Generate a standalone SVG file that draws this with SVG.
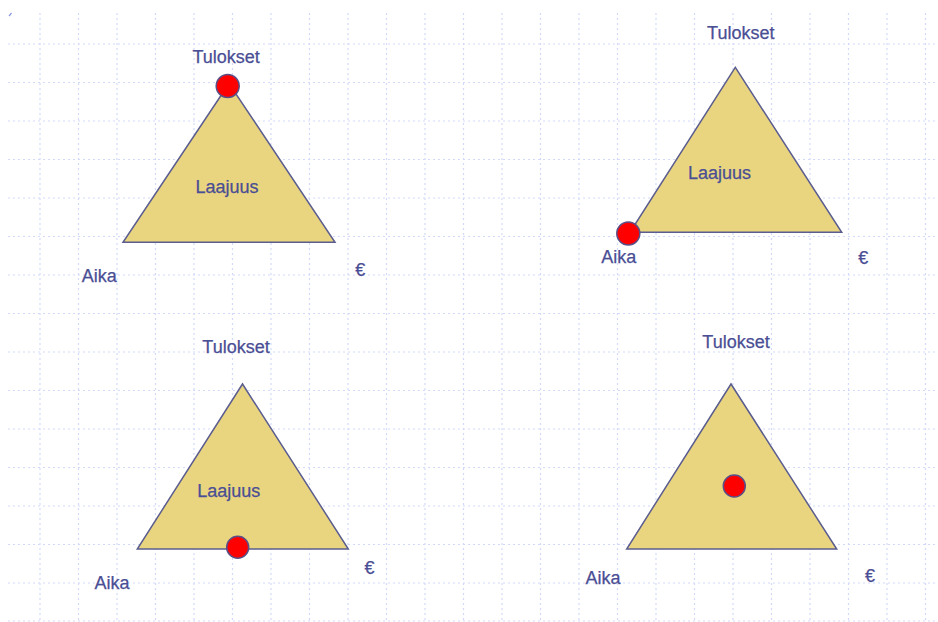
<svg xmlns="http://www.w3.org/2000/svg" width="938" height="622" viewBox="0 0 938 622">
  <style>
    .grid line { stroke: #d3daf9; stroke-width: 1.2; stroke-dasharray: 2 3; }
    .tri { fill: #e9d580; stroke: #5b5d8e; stroke-width: 1.5; stroke-linejoin: miter; }
    .dot { fill: #ff0000; stroke: #5a4f86; stroke-width: 1.5; }
    text { font-family: "Liberation Sans", Arial, sans-serif; font-size: 18px; fill: #4a4e94; stroke: #4a4e94; stroke-width: 0.25; text-anchor: middle; }
  </style>
  <rect width="938" height="622" fill="#ffffff"/>
  <g class="grid">
    <line x1="8" y1="44" x2="938" y2="44"/>
    <line x1="8" y1="82.5" x2="938" y2="82.5"/>
    <line x1="8" y1="121" x2="938" y2="121"/>
    <line x1="8" y1="159.5" x2="938" y2="159.5"/>
    <line x1="8" y1="198" x2="938" y2="198"/>
    <line x1="8" y1="236.5" x2="938" y2="236.5"/>
    <line x1="8" y1="275" x2="938" y2="275"/>
    <line x1="8" y1="313.5" x2="938" y2="313.5"/>
    <line x1="8" y1="352" x2="938" y2="352"/>
    <line x1="8" y1="390.5" x2="938" y2="390.5"/>
    <line x1="8" y1="429" x2="938" y2="429"/>
    <line x1="8" y1="467.5" x2="938" y2="467.5"/>
    <line x1="8" y1="506" x2="938" y2="506"/>
    <line x1="8" y1="544.5" x2="938" y2="544.5"/>
    <line x1="8" y1="583" x2="938" y2="583"/>
    <line x1="8" y1="621" x2="938" y2="621"/>
    <line x1="40" y1="13" x2="40" y2="622"/>
    <line x1="78.5" y1="13" x2="78.5" y2="622"/>
    <line x1="117" y1="13" x2="117" y2="622"/>
    <line x1="155.5" y1="13" x2="155.5" y2="622"/>
    <line x1="194" y1="13" x2="194" y2="622"/>
    <line x1="232.5" y1="13" x2="232.5" y2="622"/>
    <line x1="271" y1="13" x2="271" y2="622"/>
    <line x1="309.5" y1="13" x2="309.5" y2="622"/>
    <line x1="348" y1="13" x2="348" y2="622"/>
    <line x1="386.5" y1="13" x2="386.5" y2="622"/>
    <line x1="425" y1="13" x2="425" y2="622"/>
    <line x1="463.5" y1="13" x2="463.5" y2="622"/>
    <line x1="502" y1="13" x2="502" y2="622"/>
    <line x1="540.5" y1="13" x2="540.5" y2="622"/>
    <line x1="579" y1="13" x2="579" y2="622"/>
    <line x1="617.5" y1="13" x2="617.5" y2="622"/>
    <line x1="656" y1="13" x2="656" y2="622"/>
    <line x1="694.5" y1="13" x2="694.5" y2="622"/>
    <line x1="733" y1="13" x2="733" y2="622"/>
    <line x1="771.5" y1="13" x2="771.5" y2="622"/>
    <line x1="810" y1="13" x2="810" y2="622"/>
    <line x1="848.5" y1="13" x2="848.5" y2="622"/>
    <line x1="887" y1="13" x2="887" y2="622"/>
    <line x1="925.5" y1="13" x2="925.5" y2="622"/>
  </g>
  <path d="M9 16 L11.5 13" stroke="#8a98e0" stroke-width="1.2" fill="none"/>

  <g id="triangle-top-left">
    <polygon class="tri" points="229,83.5 123,242.3 335,242.3"/>
    <circle class="dot" cx="227.7" cy="86" r="11.5"/>
    <text x="226.2" y="62.5">Tulokset</text>
    <text x="227" y="193.3">Laajuus</text>
    <text x="99.2" y="282.3">Aika</text>
    <text x="360.3" y="275.7">€</text>
  </g>

  <g id="triangle-top-right">
    <polygon class="tri" points="735.3,67.3 630,232.3 841.7,232.3"/>
    <circle class="dot" cx="628.3" cy="233.5" r="11.5"/>
    <text x="740.8" y="39">Tulokset</text>
    <text x="719.5" y="179">Laajuus</text>
    <text x="618.8" y="263.3">Aika</text>
    <text x="863.3" y="264.3">€</text>
  </g>

  <g id="triangle-bottom-left">
    <polygon class="tri" points="242.5,384 137.3,549 348.3,549"/>
    <circle class="dot" cx="237.7" cy="547.3" r="11"/>
    <text x="236" y="352.7">Tulokset</text>
    <text x="228.8" y="496.7">Laajuus</text>
    <text x="112" y="589.3">Aika</text>
    <text x="369.5" y="574.3">€</text>
  </g>

  <g id="triangle-bottom-right">
    <polygon class="tri" points="731,384 626.7,549 836.7,549"/>
    <circle class="dot" cx="734.3" cy="486" r="11"/>
    <text x="736" y="348.3">Tulokset</text>
    <text x="603" y="584">Aika</text>
    <text x="870" y="581.7">€</text>
  </g>
</svg>
